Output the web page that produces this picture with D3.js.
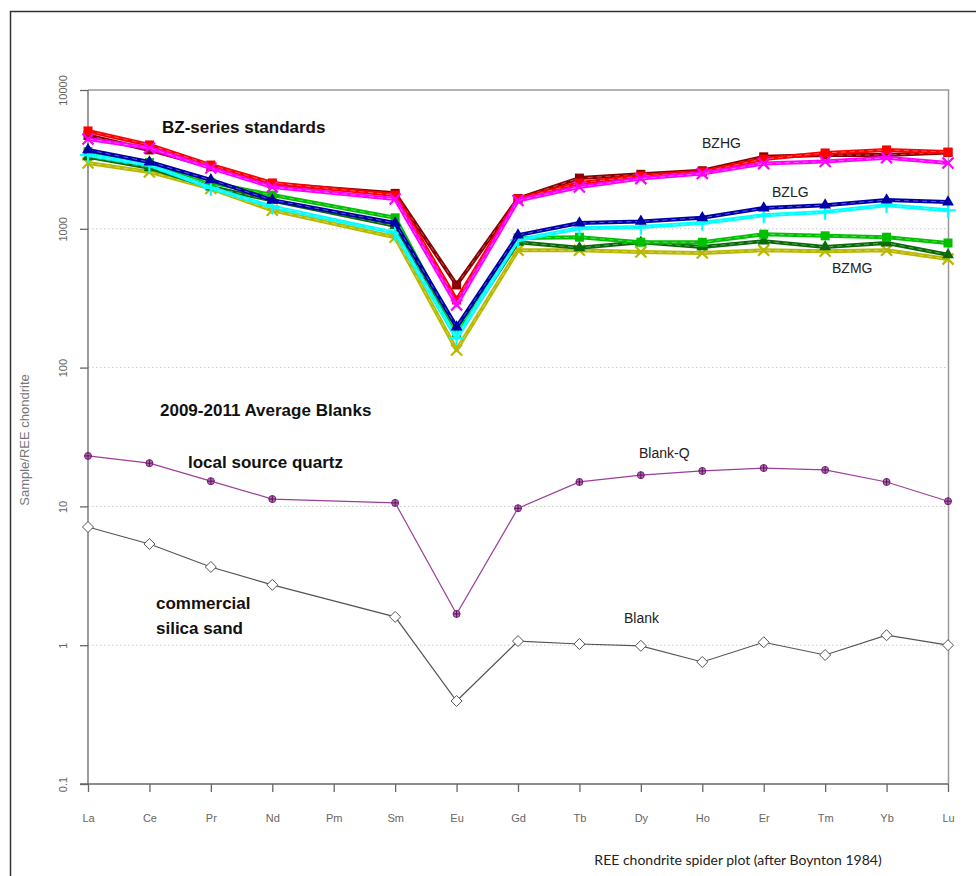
<!DOCTYPE html>
<html><head><meta charset="utf-8">
<script src="https://cdn.jsdelivr.net/npm/d3@7"></script>
<style>body{margin:0;background:#fff}svg{display:block}</style>
</head><body>
<svg id="c" width="976" height="876"></svg>
<script>
const elements = ["La","Ce","Pr","Nd","Pm","Sm","Eu","Gd","Tb","Dy","Ho","Er","Tm","Yb","Lu"];
const yTicks = [0.1, 1, 10, 100, 1000, 10000];
const yTickLabels = ["0.1","1","10","100","1000","10000"];
// BZ-series standards (null = Pm not measured)
const bzhgMaroon = [4700,3700,2800,2100,null,1800,394,1650,2320,2470,2620,3300,3400,3400,3550];
const bzhgRed    = [5070,4020,2880,2140,null,1750,307,1640,2140,2400,2570,3180,3520,3700,3570];
const bzhgMagenta= [4440,3820,2740,2000,null,1640,283,1600,2000,2300,2500,2950,3050,3250,2980];
const bzlgNavy   = [3700,3030,2250,1610,null,1100,196,900,1100,1130,1200,1410,1480,1610,1560];
const bzlgCyan   = [3400,2880,1970,1440,null,935,163,830,1010,1030,1100,1250,1320,1480,1360];
const bzmgGreen  = [3600,3000,2150,1750,null,1200,180,860,870,800,800,915,890,870,790];
const bzmgDkGreen= [3300,2750,2000,1600,null,1050,170,800,730,800,740,815,740,790,650];
const bzmgOlive  = [2980,2570,1950,1360,null,870,134,700,700,680,670,700,690,700,605];
// Blanks
const blankQ = [23.1,20.5,15.2,11.3,null,10.6,1.68,9.7,15.0,16.8,18.0,18.9,18.3,15.0,10.9];
const blank  = [7.1,5.36,3.66,2.72,null,1.60,0.396,1.07,1.02,0.99,0.757,1.05,0.85,1.18,1.0];

const bzSeries = [
  {name:"BZMG olive", values:bzmgOlive, color:"#b8b800", marker:"star"},
  {name:"BZMG dark green", values:bzmgDkGreen, color:"#0a6a0a", marker:"triangle"},
  {name:"BZMG green", values:bzmgGreen, color:"#00c000", marker:"square"},
  {name:"BZLG cyan", values:bzlgCyan, color:"#00ffff", marker:"cross"},
  {name:"BZLG navy", values:bzlgNavy, color:"#0000a8", marker:"triangle"},
  {name:"BZHG maroon", values:bzhgMaroon, color:"#8b0000", marker:"square"},
  {name:"BZHG red", values:bzhgRed, color:"#ff0000", marker:"square"},
  {name:"BZHG magenta", values:bzhgMagenta, color:"#ff00ff", marker:"star"}
];

const svg = d3.select("#c");
const W = 976, H = 876;
const x = d3.scalePoint().domain(elements).range([88, 948]);
const y = d3.scaleLog().domain([0.1, 10000]).range([784, 90]);

// outer frame
svg.append("path").attr("d", `M10.5,${H} L10.5,11.5 L${W},11.5`)
  .attr("fill","none").attr("stroke","#333").attr("stroke-width",1.5);

// grid lines
svg.append("g").selectAll("line").data([1,10,100,1000]).join("line")
  .attr("x1",88).attr("x2",948).attr("y1",d=>y(d)).attr("y2",d=>y(d))
  .attr("stroke","#c8c8c8").attr("stroke-width",1).attr("stroke-dasharray","1.5,2.5");

// plot box top/right
svg.append("path").attr("d",`M88,${y(10000)} L948.5,${y(10000)} L948.5,${y(0.1)}`)
  .attr("fill","none").attr("stroke","#999").attr("stroke-width",1.5);

// axes
const yAxis = d3.axisLeft(y).tickValues(yTicks).tickFormat((d,i)=>yTickLabels[i]).tickSize(8);
const gy = svg.append("g").attr("transform","translate(88,0)").call(yAxis);
gy.select(".domain").attr("d",`M0,${y(10000)}V${y(0.1)}`);
gy.selectAll("line,.domain").attr("stroke","#666").attr("stroke-width",1.3);
gy.selectAll("text").attr("font-family","Liberation Sans, Arial, sans-serif").attr("font-size",11).attr("fill","#666")
  .attr("text-anchor","middle").attr("x",0).attr("y",0).attr("dy","0.35em")
  .attr("transform","translate(-25,0) rotate(-90)");

const xAxis = d3.axisBottom(x).tickSize(8).tickPadding(22);
const gx = svg.append("g").attr("transform",`translate(0,${y(0.1)})`).call(xAxis);
gx.select(".domain").attr("d",`M80,0H948`);
gx.selectAll("line,.domain").attr("stroke","#666").attr("stroke-width",1.3);
gx.selectAll("text").attr("font-family","Liberation Sans, Arial, sans-serif").attr("font-size",11).attr("fill","#666");

// axis titles
svg.append("text").attr("transform",`translate(29,440) rotate(-90)`).attr("text-anchor","middle")
  .attr("font-family","Liberation Sans, Arial, sans-serif").attr("font-size",13).attr("fill","#777")
  .text("Sample/REE chondrite");
svg.append("text").attr("x",738).attr("y",865).attr("text-anchor","middle")
  .attr("font-family","Lato, 'Open Sans', sans-serif").attr("font-size",14).attr("fill","#222")
  .text("REE chondrite spider plot (after Boynton 1984)");

const line = d3.line().x(d=>x(d.e)).y(d=>y(d.v));
function pts(vals){return elements.map((e,i)=>({e, v: vals[i]})).filter(d=>d.v!=null);}

function marker(g, type, color, size){
  const s = size;
  if(type==="square") g.append("rect").attr("x",-s).attr("y",-s).attr("width",2*s).attr("height",2*s).attr("fill",color);
  else if(type==="triangle") g.append("path").attr("d",d3.symbol(d3.symbolTriangle, s*s*3)).attr("fill",color);
  else if(type==="star") g.append("path").attr("d",d3.symbol(d3.symbolTimes||d3.symbolX, s*s*4)).attr("stroke",color).attr("stroke-width",2.2).attr("fill","none");
  else if(type==="cross") g.append("path").attr("d",d3.symbol(d3.symbolPlus||d3.symbolCross, s*s*4)).attr("stroke",color).attr("stroke-width",2.2).attr("fill",color);
}

const gBZ = svg.append("g");
bzSeries.forEach(s=>{
  const data = pts(s.values);
  gBZ.append("path").datum(data).attr("d",line).attr("fill","none")
    .attr("stroke",s.color).attr("stroke-width",4).attr("stroke-linejoin","round");
  gBZ.append("path").datum(data).attr("d",line).attr("fill","none")
    .attr("stroke","#fff").attr("stroke-opacity",0.45).attr("stroke-width",0.8).attr("stroke-dasharray","5,4");
  data.forEach(d=>{
    const g = gBZ.append("g").attr("transform",`translate(${x(d.e)},${y(d.v)})`);
    marker(g, s.marker, s.color, 4.5);
  });
});

// Blank-Q
const dq = pts(blankQ);
svg.append("path").datum(dq).attr("d",line).attr("fill","none").attr("stroke","#9b3f9b").attr("stroke-width",1.2);
dq.forEach(d=>{
  const g = svg.append("g").attr("transform",`translate(${x(d.e)},${y(d.v)})`);
  g.append("circle").attr("r",3.5).attr("fill","#b070b0").attr("stroke","#7a1f7a").attr("stroke-width",1);
  g.append("path").attr("d","M-3.5,0H3.5M0,-3.5V3.5").attr("stroke","#5a105a").attr("stroke-width",1);
});

// Blank
const db = pts(blank);
svg.append("path").datum(db).attr("d",line).attr("fill","none").attr("stroke","#555").attr("stroke-width",1.2);
db.forEach(d=>{
  svg.append("path").attr("transform",`translate(${x(d.e)},${y(d.v)})`)
    .attr("d","M0,-5.5L5.5,0L0,5.5L-5.5,0Z").attr("fill","#fff").attr("stroke","#555").attr("stroke-width",1);
});

// annotations
const bold = [
  {t:"BZ-series standards", x:162, y:133},
  {t:"2009-2011 Average Blanks", x:160, y:416},
  {t:"local source quartz", x:188, y:468},
  {t:"commercial", x:156, y:609},
  {t:"silica sand", x:156, y:634}
];
svg.append("g").selectAll("text").data(bold).join("text")
  .attr("x",d=>d.x).attr("y",d=>d.y).text(d=>d.t)
  .attr("font-family","Liberation Sans, Arial, sans-serif").attr("font-weight","bold").attr("font-size",17).attr("fill","#111");
const labels = [
  {t:"BZHG", x:702, y:148},
  {t:"BZLG", x:772, y:197},
  {t:"BZMG", x:832, y:273},
  {t:"Blank-Q", x:639, y:458},
  {t:"Blank", x:624, y:623}
];
svg.append("g").selectAll("text").data(labels).join("text")
  .attr("x",d=>d.x).attr("y",d=>d.y).text(d=>d.t)
  .attr("font-family","Liberation Sans, Arial, sans-serif").attr("font-size",14).attr("fill","#222");
</script>
</body></html>
